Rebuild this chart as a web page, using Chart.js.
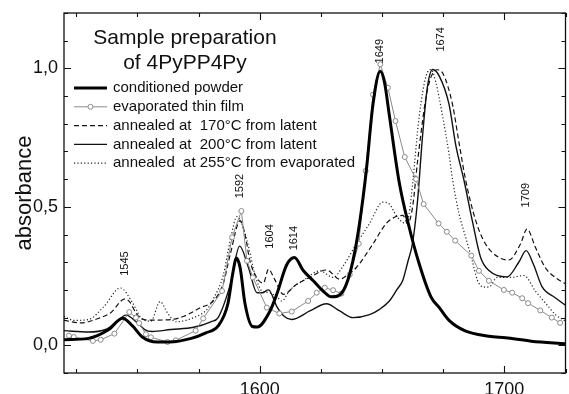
<!DOCTYPE html>
<html>
<head>
<meta charset="utf-8">
<script src="https://cdn.jsdelivr.net/npm/chart.js@4.4.1/dist/chart.umd.min.js"></script>
<style>
    html, body { margin: 0; padding: 0; background: #fff; }
</style>
</head>
<body>
<canvas id="graph" width="569" height="394"></canvas>
<script>
// wavenumber / absorbance pairs
const powder = [
    [1520, 0.02], [1530, 0.025], [1538, 0.055], [1544, 0.098], [1548, 0.07], [1552, 0.03],
    [1558, 0.012], [1563, 0.012], [1572, 0.025], [1578, 0.045], [1583, 0.07], [1587, 0.15],
    [1589, 0.26], [1590.5, 0.315], [1592, 0.28], [1594, 0.15], [1597, 0.068], [1599, 0.066],
    [1604, 0.12], [1607, 0.185], [1611, 0.29], [1614.2, 0.317], [1617.8, 0.27],
    [1621.9, 0.233], [1625.9, 0.196], [1629.3, 0.175], [1632.7, 0.182], [1635.4, 0.22],
    [1638.1, 0.305], [1640.8, 0.44], [1643.6, 0.633], [1646.3, 0.87], [1649.3, 0.99],
    [1651, 0.95], [1653, 0.83], [1657, 0.59], [1661, 0.43], [1665, 0.3], [1670, 0.175],
    [1673.4, 0.136], [1677.4, 0.09], [1684, 0.052], [1693.7, 0.033], [1700.5, 0.027],
    [1711, 0.015], [1725, 0.006]
];
const film = [
    [1522, 0.035], [1524, 0.03], [1531.8, 0.016], [1535, 0.02], [1540.6, 0.042],
    [1546.7, 0.12], [1549.4, 0.1], [1550.7, 0.08], [1553.5, 0.04], [1555.5, 0.029],
    [1562.3, 0.012], [1565.7, 0.018], [1573.8, 0.053], [1576.9, 0.097], [1584.6, 0.196],
    [1588.7, 0.39], [1592.5, 0.485], [1594.8, 0.305], [1597.2, 0.245], [1602.9, 0.136],
    [1608, 0.115], [1613.1, 0.122], [1619.8, 0.16], [1623.3, 0.19], [1626.6, 0.208],
    [1630, 0.199], [1633.4, 0.187], [1636.8, 0.255], [1640.5, 0.367], [1643.3, 0.63],
    [1646.3, 0.905], [1649.3, 1.015], [1652.4, 0.93], [1655.5, 0.81], [1659.3, 0.68],
    [1663.9, 0.6], [1667, 0.51], [1673.1, 0.44], [1676.5, 0.41], [1679.9, 0.378],
    [1686.5, 0.324], [1689.6, 0.269], [1693.7, 0.233], [1699.8, 0.2], [1703.2, 0.19],
    [1707.3, 0.17], [1709.7, 0.152], [1714.7, 0.126], [1719.4, 0.1], [1722.8, 0.081]
];
const annealed170 = [
    [1520, 0.09], [1527, 0.081], [1534, 0.097], [1539, 0.117], [1545, 0.168], [1547, 0.155],
    [1549.4, 0.117], [1551.4, 0.097], [1555.5, 0.091], [1563.6, 0.093], [1569, 0.105],
    [1575.8, 0.136], [1581, 0.16], [1585, 0.22], [1588, 0.33], [1592, 0.45], [1594, 0.4],
    [1596, 0.305], [1599.5, 0.235], [1601.5, 0.225], [1603.6, 0.275], [1606, 0.24],
    [1609.7, 0.184], [1615, 0.22], [1620.5, 0.245], [1627.3, 0.272], [1632.7, 0.239],
    [1636, 0.255], [1639.5, 0.281], [1646.3, 0.366], [1651.7, 0.44], [1655.8, 0.465],
    [1658.5, 0.469], [1660.5, 0.44], [1662.5, 0.5], [1664.6, 0.67], [1668.6, 0.924],
    [1672.5, 0.995], [1675, 0.98], [1678.8, 0.87], [1681.5, 0.73], [1684.2, 0.596],
    [1688.3, 0.45], [1692.3, 0.366], [1697.8, 0.317], [1701.8, 0.308], [1706.6, 0.366],
    [1709.3, 0.42], [1712.7, 0.354], [1716.7, 0.281], [1720.8, 0.245], [1725, 0.222]
];
const annealed200 = [
    [1520, 0.053], [1530, 0.048], [1537, 0.057], [1541, 0.08], [1545.3, 0.109], [1550, 0.081],
    [1553, 0.057], [1556, 0.05], [1563.6, 0.057], [1573, 0.065], [1580, 0.085], [1583, 0.1],
    [1588, 0.22], [1591.8, 0.358], [1595.4, 0.281], [1598.9, 0.19], [1601, 0.19],
    [1603.6, 0.2], [1607, 0.14], [1610, 0.105], [1613, 0.093], [1620.5, 0.124],
    [1627.3, 0.15], [1632.7, 0.124], [1638.1, 0.1], [1644.9, 0.111], [1649, 0.13],
    [1653, 0.16], [1656, 0.2], [1658.5, 0.235], [1660.5, 0.3], [1662.5, 0.37],
    [1664.5, 0.52], [1666.6, 0.76], [1668.5, 0.93], [1670.7, 0.996], [1673.4, 0.972],
    [1677.4, 0.87], [1680.2, 0.72], [1683.5, 0.596], [1686.9, 0.45], [1690.3, 0.317],
    [1693.7, 0.27], [1701.1, 0.247], [1705.9, 0.3], [1708.9, 0.342], [1712, 0.29],
    [1715.4, 0.212], [1720.8, 0.172], [1725, 0.145]
];
const annealed255 = [
    [1520, 0.105], [1524, 0.09], [1530, 0.093], [1536.5, 0.142], [1543, 0.207], [1548, 0.154],
    [1551.4, 0.1], [1555.5, 0.087], [1559.3, 0.158], [1562.3, 0.117], [1565.7, 0.085],
    [1573, 0.1], [1578.5, 0.13], [1581.2, 0.17], [1585, 0.25], [1588, 0.38], [1590.7, 0.465],
    [1594.8, 0.378], [1598.2, 0.251], [1600.9, 0.196], [1604, 0.19], [1607, 0.175],
    [1609, 0.16], [1612.4, 0.2], [1618, 0.235], [1624.6, 0.269], [1630, 0.245],
    [1634, 0.285], [1639.5, 0.366], [1644.9, 0.44], [1650.3, 0.517], [1653, 0.51],
    [1655.8, 0.469], [1659.5, 0.44], [1661, 0.47], [1662.5, 0.584], [1665.2, 0.827],
    [1668, 0.972], [1670, 0.996], [1672, 0.95], [1674.7, 0.83], [1677.4, 0.69],
    [1678.8, 0.6], [1681.5, 0.475], [1684.2, 0.39], [1686.9, 0.305], [1689, 0.235],
    [1691.5, 0.21], [1694, 0.212], [1697, 0.245], [1702.5, 0.245], [1708, 0.252],
    [1712.7, 0.196], [1718, 0.14], [1721, 0.11], [1725, 0.087]
];

const seriesNames = [
    'conditioned powder',
    'evaporated thin film',
    'annealed at  170\u00B0C from latent',
    'annealed at  200\u00B0C from latent',
    'annealed  at 255\u00B0C from evaporated'
];
const titleLines = ['Sample preparation', 'of 4PyPP4Py'];

// band labels written vertically above the peaks
const peakPositions = [1545, 1592, 1604, 1614, 1649, 1674, 1709];
const peakLabelHeights = [0.295, 0.575, 0.393, 0.387, 1.062, 1.105, 0.542];

const xTickValues = [1600, 1700];
const yTickValues = [0, 0.5, 1.0];
const xRange = [1520, 1725];
const yRange = [-0.1, 1.2];

const FONT = "'Liberation Sans', Arial, sans-serif";

function toPoints(pairs) {
    return pairs.map(p => ({ x: p[0], y: p[1] }));
}

// frame with inward ticks, like the origin plot
const framePlugin = {
    id: 'frame',
    afterDatasetsDraw(chart) {
        const { ctx, chartArea: a, scales: { x, y } } = chart;
        ctx.save();
        ctx.strokeStyle = '#111';
        ctx.lineWidth = 1.3;
        ctx.strokeRect(a.left, a.top, a.right - a.left, a.bottom - a.top);
        ctx.lineWidth = 1.1;
        ctx.beginPath();
        for (let v = 1525; v <= xRange[1]; v += 25) {
            const px = Math.round(x.getPixelForValue(v)) + 0.5;
            const len = v % 100 === 0 ? 7 : 4;
            ctx.moveTo(px, a.bottom); ctx.lineTo(px, a.bottom - len);
            ctx.moveTo(px, a.top); ctx.lineTo(px, a.top + len);
        }
        for (let i = -1; i <= 12; i++) {
            const py = Math.round(y.getPixelForValue(i / 10)) + 0.5;
            const len = i % 5 === 0 ? 7 : 4;
            ctx.moveTo(a.left, py); ctx.lineTo(a.left + len, py);
            ctx.moveTo(a.right, py); ctx.lineTo(a.right - len, py);
        }
        ctx.stroke();
        ctx.restore();
    }
};

// title block, legend and peak labels
const notesPlugin = {
    id: 'notes',
    afterDraw(chart) {
        const { ctx, chartArea: a, scales: { x, y } } = chart;
        ctx.save();
        ctx.fillStyle = '#111';

        ctx.font = '21px ' + FONT;
        ctx.textAlign = 'center';
        ctx.textBaseline = 'middle';
        ctx.fillText(titleLines[0], a.left + 121, a.top + 25);
        ctx.fillText(titleLines[1], a.left + 121, a.top + 50);

        ctx.font = '15px ' + FONT;
        ctx.textAlign = 'left';
        chart.data.datasets.forEach((ds, i) => {
            const rowY = a.top + 75 + i * 18.8;
            const x0 = a.left + 10, x1 = a.left + 43;
            ctx.save();
            ctx.strokeStyle = ds.borderColor;
            ctx.lineWidth = ds.borderWidth;
            ctx.setLineDash(ds.borderDash || []);
            ctx.beginPath();
            ctx.moveTo(x0, rowY);
            ctx.lineTo(x1, rowY);
            ctx.stroke();
            if (ds.pointRadius > 0) {
                ctx.setLineDash([]);
                ctx.fillStyle = ds.pointBackgroundColor;
                ctx.strokeStyle = ds.pointBorderColor;
                ctx.lineWidth = 1;
                ctx.beginPath();
                ctx.arc((x0 + x1) / 2, rowY, ds.pointRadius, 0, Math.PI * 2);
                ctx.fill();
                ctx.stroke();
            }
            ctx.restore();
            ctx.fillText(ds.label, a.left + 49, rowY);
        });

        ctx.font = '11px ' + FONT;
        ctx.textAlign = 'center';
        peakPositions.forEach((p, i) => {
            ctx.save();
            ctx.translate(x.getPixelForValue(p), y.getPixelForValue(peakLabelHeights[i]));
            ctx.rotate(-Math.PI / 2);
            ctx.fillText(String(p), 0, 0);
            ctx.restore();
        });
        ctx.restore();
    }
};

const lineBase = {
    fill: false,
    pointRadius: 0,
    pointHoverRadius: 0,
    cubicInterpolationMode: 'monotone'
};

const chart = new Chart(document.getElementById('graph').getContext('2d'), {
    type: 'line',
    data: {
        datasets: [
            Object.assign({}, lineBase, {
                label: seriesNames[0], data: toPoints(powder),
                borderColor: '#000', borderWidth: 3
            }),
            Object.assign({}, lineBase, {
                label: seriesNames[1], data: toPoints(film),
                borderColor: '#8a8a8a', borderWidth: 1,
                pointRadius: 2.5, pointBackgroundColor: '#fff',
                pointBorderColor: '#8a8a8a', pointBorderWidth: 1,
                cubicInterpolationMode: 'default', tension: 0
            }),
            Object.assign({}, lineBase, {
                label: seriesNames[2], data: toPoints(annealed170),
                borderColor: '#111', borderWidth: 1.2, borderDash: [5, 3]
            }),
            Object.assign({}, lineBase, {
                label: seriesNames[3], data: toPoints(annealed200),
                borderColor: '#111', borderWidth: 1.4
            }),
            Object.assign({}, lineBase, {
                label: seriesNames[4], data: toPoints(annealed255),
                borderColor: '#222', borderWidth: 1.2, borderDash: [1.2, 2.2]
            })
        ]
    },
    options: {
        responsive: false,
        animation: false,
        layout: { padding: { top: 13, right: 2, left: 0, bottom: 0 } },
        plugins: {
            legend: { display: false },
            tooltip: { enabled: false }
        },
        scales: {
            x: {
                type: 'linear',
                min: xRange[0],
                max: xRange[1],
                afterFit: s => { s.height = 21; s.paddingLeft = 0; s.paddingRight = 0; },
                afterBuildTicks: s => { s.ticks = xTickValues.map(v => ({ value: v })); },
                grid: { display: false },
                border: { display: false },
                ticks: {
                    padding: -2,
                    color: '#111',
                    font: { family: FONT, size: 18 },
                    callback: v => String(v)
                }
            },
            y: {
                type: 'linear',
                min: yRange[0],
                max: yRange[1],
                afterFit: s => { s.width = 64; s.paddingTop = 0; s.paddingBottom = 0; },
                afterBuildTicks: s => { s.ticks = yTickValues.map(v => ({ value: v })); },
                grid: { display: false },
                border: { display: false },
                ticks: {
                    padding: -2,
                    color: '#111',
                    font: { family: FONT, size: 18 },
                    callback: v => v.toFixed(1).replace('.', ',')
                },
                title: {
                    display: true,
                    text: 'absorbance',
                    color: '#111',
                    font: { family: FONT, size: 22 },
                    padding: { top: 12, bottom: 0 }
                }
            }
        }
    },
    plugins: [framePlugin, notesPlugin]
});
</script>
</body>
</html>
